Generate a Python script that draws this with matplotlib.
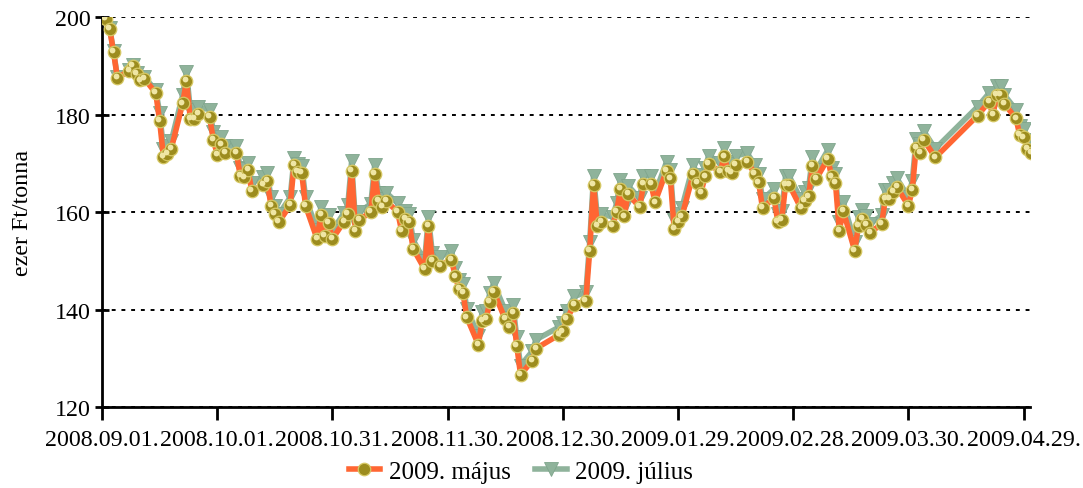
import matplotlib
matplotlib.use("Agg")
import matplotlib.pyplot as plt
import matplotlib.dates as mdates
import matplotlib.transforms as mtransforms
import pandas as pd

# trading days, 2008-09 .. 2009-05
dates = pd.to_datetime([
    "2008-09-02", "2008-09-03", "2008-09-04", "2008-09-05", "2008-09-08", "2008-09-09", "2008-09-10",
    "2008-09-11", "2008-09-12", "2008-09-15", "2008-09-16", "2008-09-17", "2008-09-18", "2008-09-19",
    "2008-09-22", "2008-09-23", "2008-09-24", "2008-09-25", "2008-09-26", "2008-09-29", "2008-09-30",
    "2008-10-01", "2008-10-02", "2008-10-03", "2008-10-06", "2008-10-07", "2008-10-08", "2008-10-09",
    "2008-10-10", "2008-10-13", "2008-10-14", "2008-10-15", "2008-10-16", "2008-10-17", "2008-10-20",
    "2008-10-21", "2008-10-22", "2008-10-23", "2008-10-24", "2008-10-27", "2008-10-28", "2008-10-29",
    "2008-10-30", "2008-10-31", "2008-11-03", "2008-11-04", "2008-11-05", "2008-11-06", "2008-11-07",
    "2008-11-10", "2008-11-11", "2008-11-12", "2008-11-13", "2008-11-14", "2008-11-17", "2008-11-18",
    "2008-11-19", "2008-11-20", "2008-11-21", "2008-11-24", "2008-11-25", "2008-11-26", "2008-11-28",
    "2008-12-01", "2008-12-02", "2008-12-03", "2008-12-04", "2008-12-05", "2008-12-08", "2008-12-09",
    "2008-12-10", "2008-12-11", "2008-12-12", "2008-12-15", "2008-12-16", "2008-12-17", "2008-12-18",
    "2008-12-19", "2008-12-22", "2008-12-23", "2008-12-29", "2008-12-30", "2008-12-31", "2009-01-02",
    "2009-01-05", "2009-01-06", "2009-01-07", "2009-01-08", "2009-01-09", "2009-01-12", "2009-01-13",
    "2009-01-14", "2009-01-15", "2009-01-16", "2009-01-19", "2009-01-20", "2009-01-22", "2009-01-23",
    "2009-01-26", "2009-01-27", "2009-01-28", "2009-01-29", "2009-01-30", "2009-02-02", "2009-02-03",
    "2009-02-04", "2009-02-05", "2009-02-06", "2009-02-09", "2009-02-10", "2009-02-11", "2009-02-12",
    "2009-02-13", "2009-02-16", "2009-02-18", "2009-02-19", "2009-02-20", "2009-02-23", "2009-02-24",
    "2009-02-25", "2009-02-26", "2009-02-27", "2009-03-02", "2009-03-03", "2009-03-04", "2009-03-05",
    "2009-03-06", "2009-03-09", "2009-03-10", "2009-03-11", "2009-03-12", "2009-03-13", "2009-03-16",
    "2009-03-17", "2009-03-18", "2009-03-19", "2009-03-20", "2009-03-23", "2009-03-24", "2009-03-25",
    "2009-03-26", "2009-03-27", "2009-03-30", "2009-03-31", "2009-04-01", "2009-04-02", "2009-04-03",
    "2009-04-06", "2009-04-17", "2009-04-20", "2009-04-21", "2009-04-22", "2009-04-23", "2009-04-24",
    "2009-04-27", "2009-04-28", "2009-04-29", "2009-04-30", "2009-05-01",
])

majus = [
    199.7, 197.5, 192.8, 187.5, 189.0, 190.0, 188.3, 187.0, 187.4, 184.4, 178.7, 171.3, 171.9, 172.9,
    182.3, 186.9, 179.1, 179.1, 180.1, 179.5, 174.8, 171.8, 173.9, 172.1, 172.1, 167.4, 167.1, 168.6,
    164.4, 165.5, 166.4, 161.3, 159.6, 157.9, 161.4, 169.6, 168.3, 168.0, 161.3, 154.5, 159.4, 155.1,
    157.7, 154.5, 158.0, 159.6, 168.5, 156.2, 158.4, 160.0, 167.8, 162.3, 161.0, 162.3, 160.0, 156.2,
    158.6, 157.9, 152.5, 148.3, 157.2, 150.0, 149.0, 150.2, 146.8, 144.2, 143.4, 138.4, 132.8, 137.7,
    138.0, 141.6, 143.7, 138.0, 136.4, 139.3, 132.6, 126.6, 129.5, 132.0, 134.8, 135.5, 138.0, 141.0,
    141.8, 152.1, 165.5, 157.1, 157.9, 157.2, 160.1, 164.7, 159.1, 163.7, 161.0, 165.7, 165.7, 162.0,
    168.5, 166.9, 156.5, 157.9, 159.1, 167.9, 165.9, 164.0, 167.3, 169.8, 168.3, 171.4, 168.5, 168.0,
    169.7, 170.3, 167.9, 166.1, 160.8, 162.9, 157.9, 158.4, 165.5, 165.5, 160.8, 162.3, 163.2, 169.4,
    166.8, 170.9, 167.3, 166.0, 156.2, 160.3, 152.1, 157.2, 158.6, 157.3, 155.8, 157.5, 162.7, 162.7,
    164.2, 165.1, 161.3, 164.6, 173.1, 172.1, 174.8, 171.2, 179.8, 182.6, 179.9, 184.0, 184.0, 182.2,
    179.2, 175.8, 175.3, 172.9, 172.2,
]

julius = [
    199.9, 197.8, 193.0, 187.8, 189.2, 190.2, 188.6, 187.3, 187.7, 185.0, 180.4, 173.0, 173.6, 174.5,
    184.0, 188.7, 181.0, 181.0, 181.6, 181.0, 176.5, 173.5, 175.5, 173.6, 173.5, 169.0, 168.8, 170.0,
    166.0, 167.2, 168.0, 163.0, 161.3, 159.5, 163.0, 171.0, 169.8, 169.5, 163.0, 156.3, 161.0, 157.0,
    159.3, 156.2, 159.8, 161.4, 170.4, 158.0, 160.0, 161.7, 169.6, 164.0, 162.7, 164.0, 161.8, 158.0,
    160.3, 159.6, 154.3, 150.0, 159.0, 151.7, 150.8, 152.0, 148.6, 146.0, 145.2, 140.2, 134.6, 139.5,
    139.8, 143.4, 145.4, 139.8, 138.2, 141.0, 134.4, 128.5, 131.4, 133.8, 136.4, 137.2, 139.8, 142.7,
    143.5, 153.8, 167.4, 158.9, 159.6, 159.0, 161.8, 166.5, 160.9, 165.4, 162.8, 167.5, 167.4, 163.8,
    170.3, 168.7, 158.3, 159.7, 160.9, 169.7, 167.7, 165.8, 169.1, 171.6, 170.1, 173.2, 170.3, 169.8,
    171.5, 172.1, 169.7, 167.9, 162.6, 164.7, 159.7, 160.2, 167.3, 167.3, 162.6, 164.1, 165.0, 171.2,
    168.6, 172.7, 169.1, 167.8, 158.0, 162.1, 153.9, 159.0, 160.4, 159.1, 157.6, 159.3, 164.5, 164.5,
    166.0, 166.9, 163.1, 166.4, 174.9, 173.9, 176.6, 173.0, 181.6, 184.4, 181.7, 185.8, 185.8, 184.0,
    181.0, 177.6, 177.1, 174.7, 174.0,
]

series_labels = ["2009. május", "2009. július"]
y_label = "ezer Ft/tonna"
y_ticks = [120, 140, 160, 180, 200]

plt.rcParams["font.family"] = ["Liberation Serif", "DejaVu Serif"]
fs = 17.3

fig = plt.figure(figsize=(10.83, 4.89), dpi=100)
ax = fig.add_axes([0.0942, 0.1656, 0.857, 0.7974])

# július underneath
ax.plot(dates, julius, color="#8fb39b", lw=4, marker="v", ms=9.5,
        mfc="#8fb39b", mec="#7fa58c", mew=0.6, zorder=3, label=series_labels[1])

# május with sphere-like markers
ax.plot(dates, majus, color="#ff6633", lw=4, marker="o", ms=9,
        mfc="#9c8c1e", mec="#d6c864", mew=0.9, zorder=4, label=series_labels[0])
hl = mtransforms.offset_copy(ax.transData, fig=fig, x=-1.0, y=1.3, units="points")
ax.plot(dates, majus, ls="none", marker="o", ms=4.2, mfc="#efe6a4", mec="none",
        transform=hl, zorder=5)

start = pd.Timestamp("2008-09-01")
ax.set_xlim(start, start + pd.Timedelta(days=241.7))
ax.set_ylim(120, 200)

ax.set_xticks([start + pd.Timedelta(days=30 * k) for k in range(9)])
ax.xaxis.set_major_formatter(mdates.DateFormatter("%Y.%m.%d."))
ax.set_yticks(y_ticks)

ax.yaxis.grid(True, color="black", linestyle=(0, (2, 3)), lw=1.4)
ax.set_axisbelow(True)

for side in ["top", "right"]:
    ax.spines[side].set_visible(False)
for side in ["left", "bottom"]:
    ax.spines[side].set_linewidth(2)

ax.tick_params(axis="x", direction="out", length=9, width=2, labelsize=fs, pad=7)
ax.tick_params(axis="y", direction="inout", length=10, width=2, labelsize=fs, pad=3)
ax.set_ylabel(y_label, fontsize=fs, labelpad=16)

handles, labels = ax.get_legend_handles_labels()
fig.legend(handles[::-1], labels[::-1], loc="lower center", bbox_to_anchor=(0.481, -0.035),
           ncol=2, frameon=False, fontsize=18, handlelength=1.25, columnspacing=1.0,
           handletextpad=0.35)

fig.savefig("out.png", dpi=100)
